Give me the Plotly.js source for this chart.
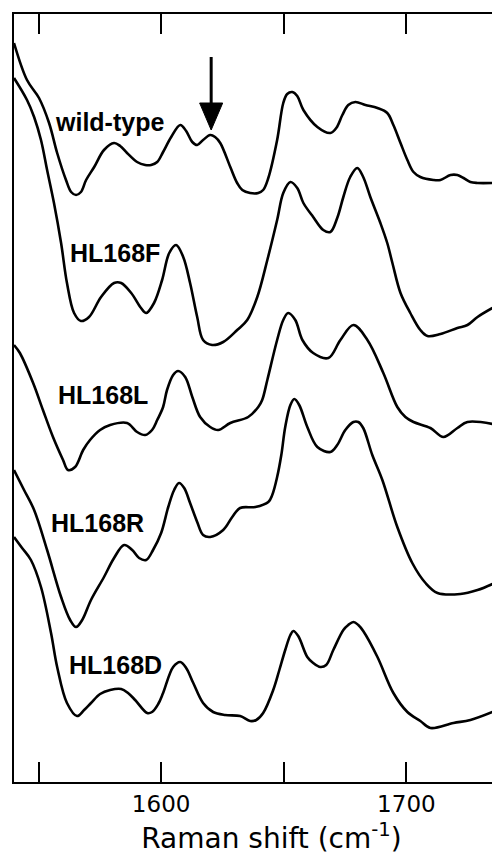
<!DOCTYPE html>
<html>
<head>
<meta charset="utf-8">
<script src="https://cdn.plot.ly/plotly-3.0.1.min.js"></script>
<style>
html, body { margin: 0; padding: 0; overflow: hidden; background: #fff; }
#chart { width: 529px; height: 855px; }
</style>
</head>
<body>
<div id="chart"></div>
<script>
// Series names
const seriesNames = ["wild-type", "HL168F", "HL168L", "HL168R", "HL168D"];

// Raman shift (cm-1) and relative intensity (a.u.) for each spectrum
const wildTypeX = [1540.0,1545.3,1550.2,1554.3,1557.6,1561.2,1563.3,1565.3,1567.3,1569.4,1572.7,1576.7,1580.8,1583.3,1586.1,1590.2,1593.5,1595.9,1598.4,1600.8,1604.1,1607.8,1610.2,1612.7,1614.7,1617.1,1620.0,1622.0,1624.1,1628.2,1631.0,1633.1,1636.3,1639.6,1641.6,1643.7,1647.3,1649.8,1651.4,1653.5,1655.5,1658.0,1663.7,1669.0,1671.4,1673.9,1676.3,1679.2,1683.3,1688.2,1692.2,1694.7,1697.6,1700.4,1702.9,1705.7,1711.0,1713.9,1718.0,1720.8,1723.3,1726.1,1729.0,1735.1];
const wildTypeY = [159,122,104,79,49,22,10,7,10,22,35,52,59,56,49,40,37,37,40,50,65,77,71,60,57,62,67,65,59,35,19,12,9,9,12,24,62,99,108,110,106,92,75,69,74,87,97,100,97,94,89,77,59,42,30,25,22,22,27,27,24,20,19,19];

const hl168fX = [1540.0,1545.3,1548.2,1551.0,1553.5,1556.3,1559.2,1561.6,1564.5,1567.3,1570.6,1575.5,1580.8,1583.7,1587.8,1591.8,1593.9,1597.1,1600.4,1603.3,1606.1,1609.0,1611.8,1614.7,1617.1,1620.8,1625.3,1631.0,1635.1,1639.2,1643.3,1647.3,1649.8,1652.7,1655.5,1658.0,1662.0,1666.1,1669.0,1671.8,1674.3,1677.1,1680.0,1682.4,1685.3,1689.4,1692.2,1694.3,1697.6,1701.6,1705.7,1708.6,1713.9,1720.8,1724.9,1729.0,1735.1];
const hl168fY = [274,252,235,212,182,149,109,69,39,31,35,55,69,69,59,44,39,49,72,99,107,95,69,35,12,7,10,22,32,55,92,132,159,170,164,149,135,122,120,134,155,175,184,175,155,129,109,89,59,39,22,16,18,24,27,35,44];

const hl168lX = [1540.0,1542.4,1547.8,1551.8,1555.9,1560.0,1562.0,1564.9,1568.2,1571.0,1575.1,1579.2,1586.1,1590.2,1593.5,1596.3,1598.4,1600.8,1602.4,1604.9,1606.9,1609.8,1612.7,1615.9,1620.0,1623.3,1628.2,1635.5,1639.6,1641.2,1643.3,1647.3,1649.8,1651.8,1654.7,1657.6,1662.0,1668.2,1673.1,1678.4,1684.1,1690.6,1696.3,1699.6,1702.9,1709.8,1715.1,1720.8,1724.9,1735.1];
const hl168lY = [137,129,99,72,45,22,12,15,32,42,52,57,59,50,47,52,62,75,92,107,111,105,85,65,55,52,59,65,75,82,102,142,162,169,162,142,129,124,142,157,142,109,75,65,60,54,45,54,60,58];

const hl168rX = [1540.0,1544.1,1548.2,1553.5,1559.2,1562.9,1565.3,1567.8,1571.4,1576.7,1580.8,1584.9,1588.2,1591.0,1593.9,1596.7,1600.0,1602.9,1605.3,1607.3,1609.4,1611.8,1614.7,1617.1,1620.0,1625.3,1629.0,1632.2,1638.4,1643.7,1645.3,1647.3,1649.0,1650.6,1652.7,1654.3,1656.3,1659.6,1663.7,1669.0,1671.8,1675.1,1678.4,1680.4,1682.4,1686.1,1690.2,1696.3,1702.4,1707.8,1712.7,1722.0,1729.0,1735.1];
const hl168rY = [162,142,122,82,35,12,5,12,32,55,74,87,82,74,72,82,99,125,142,149,144,129,110,97,95,102,115,124,125,130,137,155,177,205,227,233,227,205,185,180,187,202,210,210,204,177,152,105,69,49,39,38,42,48];

const hl168dX = [1540.0,1543.3,1546.9,1551.0,1555.1,1557.6,1561.6,1565.7,1568.6,1571.4,1575.1,1579.2,1583.7,1586.5,1589.4,1594.3,1596.3,1598.8,1600.8,1604.9,1607.8,1610.2,1613.1,1617.1,1621.2,1626.1,1632.2,1636.3,1638.8,1641.6,1645.7,1648.2,1650.6,1652.7,1653.9,1655.9,1659.6,1662.0,1664.9,1667.3,1670.2,1674.3,1676.3,1678.4,1680.4,1682.4,1688.2,1694.7,1700.4,1705.7,1709.8,1719.2,1726.1,1735.1];
const hl168dY = [205,194,182,155,109,75,39,26,32,39,48,52,53,49,42,29,30,38,49,75,80,74,59,39,30,27,26,21,22,29,52,72,92,107,111,106,85,79,75,77,92,112,117,120,117,111,85,49,30,21,14,19,22,30];

// vertical stacking offsets for display
const offsets = [580, 430, 300, 150, 40];

// marked band (arrow) position, cm-1
const markedBand = 1620.4;

const xs = [wildTypeX, hl168fX, hl168lX, hl168rX, hl168dX];
const ys = [wildTypeY, hl168fY, hl168lY, hl168rY, hl168dY];

const traces = xs.map((x, i) => ({
  type: "scatter",
  mode: "lines",
  name: seriesNames[i],
  x: x,
  y: ys[i].map(v => v + offsets[i]),
  line: { color: "#000", width: 2.6, shape: "spline", smoothing: 1.0 },
  hoverinfo: "skip"
}));

const labelPos = [
  [1578.8, 660], [1581.0, 529], [1576.1, 387], [1574.1, 259], [1581.2, 117]
];

const annotations = seriesNames.map((n, i) => ({
  x: labelPos[i][0], y: labelPos[i][1], xref: "x", yref: "y",
  text: n, showarrow: false,
  font: { family: "Liberation Sans, Arial, sans-serif", size: 25, color: "#000", weight: "bold" },
  xanchor: "center", yanchor: "middle"
}));

// arrow marking the band: shaft + filled head
const shapes = [
  { type: "line", xref: "x", yref: "y", x0: markedBand, x1: markedBand, y0: 676, y1: 725,
    line: { color: "#000", width: 3 } },
  { type: "path", xref: "x", yref: "y",
    path: `M ${markedBand - 4.7},679 L ${markedBand + 4.7},679 L ${markedBand},652 Z`,
    fillcolor: "#000", line: { color: "#000", width: 1 } }
];

const layout = {
  width: 529, height: 855,
  margin: { l: 14, r: 0, t: 14, b: 73 },
  paper_bgcolor: "#fff", plot_bgcolor: "#fff",
  showlegend: false,
  xaxis: {
    range: [1540, 1750],
    showline: true, linecolor: "#000", linewidth: 2,
    mirror: "ticks",
    ticks: "inside", ticklen: 20, tickwidth: 2, tickcolor: "#000",
    tick0: 1600, dtick: 100,
    minor: { tick0: 1550, dtick: 100, ticks: "inside", ticklen: 20, tickwidth: 2, tickcolor: "#000", showgrid: false },
    tickfont: { family: "DejaVu Sans, sans-serif", size: 23, color: "#000" },
    showgrid: false, zeroline: false,
    title: { text: "Raman shift (cm<sup>-1</sup>)", font: { family: "DejaVu Sans, sans-serif", size: 28, color: "#000" }, standoff: 14 }
  },
  yaxis: {
    range: [0, 768],
    showline: true, linecolor: "#000", linewidth: 2,
    ticks: "", showticklabels: false, showgrid: false, zeroline: false
  },
  annotations: annotations,
  shapes: shapes
};

Plotly.newPlot("chart", traces, layout, { staticPlot: true, displayModeBar: false });
</script>
</body>
</html>
